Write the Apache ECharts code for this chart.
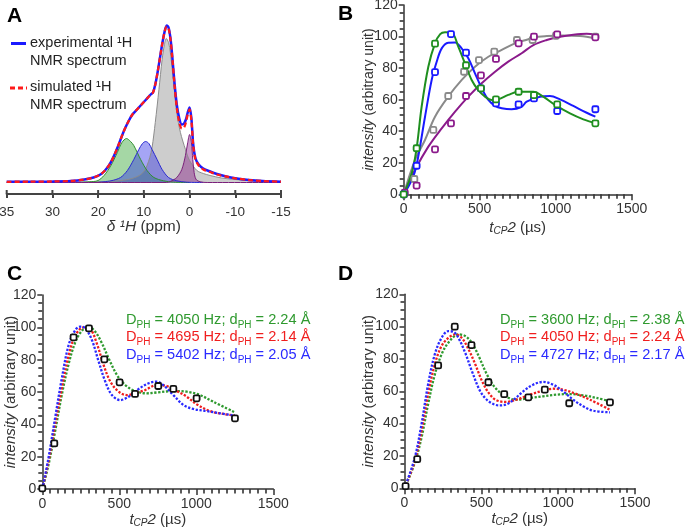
<!DOCTYPE html>
<html>
<head>
<meta charset="utf-8">
<title>1H NMR / CP kinetics</title>
<script src="https://cdn.jsdelivr.net/npm/echarts@6/dist/echarts.min.js"></script>
<style>html,body{margin:0;padding:0;background:#fff;}</style>
</head>
<body>
<div id="main" style="width:685px;height:528px;"></div>
<script type="text/javascript">
// ---------- panel A : 1H spectrum, [ppm, height] ----------
var aTickValues = [40, 30, 20, 10, 0, -10, -20];
var aTickLabels = ['35', '30', '20', '10', '0', '-10', '-15'];

var expSpectrum = [[40,0.7],[35,0.8],[30,1],[26,1.5],[23,3],[21,5],[19.5,8],[18.5,12],[17.5,18],[16.5,27],[15.5,38],[14.5,50],[13.5,60],[12.5,68],[11.5,73],[10.5,78],[9.5,83],[8.5,88],[8,90],[7.5,98],[7,110],[6.5,124],[6,138],[5.5,150],[5,157],[4.6,155],[4.2,145],[3.8,127],[3.3,100],[2.8,78],[2.3,65],[1.7,58],[1.2,59],[0.8,63],[0.4,70],[0,75],[-0.4,64],[-0.8,38],[-1.3,24],[-2,18],[-3,14],[-4.5,11],[-6,8.5],[-8,6],[-10,4.2],[-13,2.5],[-16,1.5],[-20,0.8]];
var simSpectrum = [[40,0.7],[35,0.8],[30,1],[26,1.5],[23,3],[21,5],[19.5,8],[18.5,12],[17.5,18],[16.5,27],[15.5,38],[14.5,50],[13.5,60],[12.5,68],[11.5,73],[10.5,78],[9.5,83],[8.5,88],[8,90],[7.5,98],[7,110],[6.5,124],[6,138],[5.5,150],[5,156],[4.6,154],[4.2,144],[3.8,126],[3.3,98],[2.8,75],[2.3,61],[1.7,54],[1.2,55],[0.8,60],[0.4,68],[0,73],[-0.4,62],[-0.8,37],[-1.3,23],[-2,17],[-3,13],[-4.5,10.5],[-6,8],[-8,6],[-10,4.2],[-13,2.5],[-16,1.5],[-20,0.8]];
var grayPeak = [[40,0.2],[25,0.4],[20,0.8],[16,1.5],[13,3.5],[11,7],[10,11],[9.3,17],[8.7,25],[8.2,35],[7.5,60],[6.7,93],[6,123],[5.5,138],[5.1,144],[4.6,140],[4.2,130],[3.5,100],[2.8,70],[2,50],[0.9,33],[0,22],[-1.6,12],[-3,9],[-4.5,7],[-7,4.5],[-10,3],[-14,1.7],[-20,0.8]];
var greenPeak = [[24,0.2],[21,1],[20,2],[18.7,7],[17.2,17],[15.8,30],[14.8,40],[13.8,44],[12.9,41],[12.2,37],[10.7,23],[9.3,12],[7.8,5],[5.7,1.7],[3.5,0.3],[0,0]];
var bluePeak = [[20,0.2],[17.2,1.7],[15.1,5],[13.6,12],[12.2,23],[11.1,33],[10.3,39],[9.6,41],[8.9,39],[8.2,33],[7.1,23],[6,13],[4.6,5],[2.8,1.7],[0.6,0.3],[-3,0]];
var purplePeak = [[40,0],[5,0],[4.2,1],[2.8,5],[1.7,13],[0.9,27],[0.4,40],[0,48],[-0.4,40],[-0.7,23],[-1,10],[-1.4,3.3],[-2.3,0.7],[-4,0],[-20,0]];

// ---------- panel B : build-up curves, [t (us), intensity] ----------
var bGreenPts = [[0,0],[85,29.2],[206,95.5],[410,81.8],[508,67.2],[607,60.2],[756,65],[857,62.9],[1010,57],[1261,45]];
var bBluePts = [[0,0],[85,18.1],[206,77.5],[311,101.6],[410,89.8],[508,67.2],[607,57.7],[756,57],[857,60.8],[1010,52.8],[1261,53.9]];
var bGrayPts = [[4,0],[70,9.7],[195,40.8],[293,62.3],[397,77.7],[495,85.1],[596,90.4],[745,97.8],[848,97.8],[1002,100.5],[1261,100]];
var bPurplePts = [[7,1],[85,5.5],[206,28.5],[311,45],[410,62.3],[508,75.4],[607,85.8],[756,95.7],[857,99.9],[1010,101.4],[1261,99.5]];
var bGreenFit = [[0,0],[53,13.3],[85,29.2],[118,55.5],[162,80.9],[206,95.7],[240,101.5],[272,102.7],[316,102.5],[359,93.6],[403,83],[447,72.5],[491,66],[535,61.9],[579,59.8],[623,60.2],[688,63],[754,65],[820,65],[853,65],[918,61.9],[1006,56],[1094,51.3],[1182,47.5],[1261,45]];
var bBlueFit = [[0,0],[53,9],[85,18.6],[140,49],[184,72.5],[217,84],[250,92.5],[293,96.1],[338,96.3],[381,92.5],[425,86.2],[469,76.7],[513,67.2],[557,59.8],[601,56],[645,54.5],[710,53.9],[776,55.5],[809,58.7],[897,61.9],[962,62.3],[1028,60.2],[1116,56],[1204,51.7],[1261,49.2]];
var bGrayFit = [[0,0],[74,21.7],[140,34.4],[206,49.2],[293,61.9],[382,72.5],[469,80.9],[557,87.2],[645,91.5],[732,95.7],[820,98.3],[853,99.5],[941,100.3],[1050,100.7],[1160,100.3],[1261,98.9]];
var bPurpleFit = [[0,0],[74,15.4],[162,30.2],[250,41.8],[338,52.4],[425,61.9],[513,70.4],[601,77.7],[688,84.1],[776,89.4],[853,94.6],[941,97.8],[1028,99.9],[1116,101.2],[1204,101.8],[1261,101.4]];

// ---------- panel C ----------
var cExpPts = [[0,0.4],[78,28.2],[203,93.8],[303,99.4],[403,80.2],[502,66],[602,58.8],[753,63.7],[851,61.9],[1002,56.1],[1251,43.7]];
var cGreenFit = [[0,0],[39,14.4],[82,35],[126,57.9],[171,77.3],[214,90.7],[258,98],[301,100.4],[344,97.3],[388,90],[431,80.8],[485,70.5],[539,64.3],[602,60.6],[678,59.2],[753,59.8],[851,60.6],[938,60.2],[1024,58.1],[1110,54],[1251,47.4]];
var cRedFit = [[0,0],[39,16.5],[82,39.2],[126,62.3],[171,82.5],[214,94.8],[268,100],[312,99],[355,89.7],[398,76.7],[442,66.4],[496,60.2],[550,58.1],[602,59.2],[667,61.2],[743,64.3],[808,63.7],[873,60.6],[938,57.1],[1002,52.4],[1089,48.2],[1175,46.4],[1251,45.4]];
var cBlueFit = [[0,0],[39,18.6],[82,43.3],[126,68],[171,89],[214,98.3],[245,100.4],[279,99.4],[322,92.2],[366,78.8],[409,66.4],[452,58.1],[506,55],[561,57.1],[626,61.9],[691,65.4],[743,66.4],[786,64.3],[851,58.1],[916,52],[981,49.5],[1067,48.2],[1154,46.8],[1251,45.4]];
var cDph = ['4050', '4695', '5402'];
var cDist = ['2.24', '2.14', '2.05'];

// ---------- panel D ----------
var dExpPts = [[7,1.4],[83,18],[219,76],[327,100],[436,88.6],[546,65.6],[649,58.2],[806,56.3],[913,61],[1072,52.6],[1337,53.2]];
var dGreenFit = [[0,0],[66,15.5],[110,31],[153,51.7],[197,70.3],[241,82.8],[285,90],[351,95.2],[395,94.2],[439,90],[483,81.7],[537,70.3],[592,62],[658,56.9],[724,54.8],[815,55.9],[902,56.9],[989,57.9],[1076,58.3],[1163,57.5],[1250,55.9],[1337,53.8]];
var dRedFit = [[0,0],[66,16.6],[110,35.2],[153,58],[197,76.6],[241,88],[285,93],[329,95.2],[373,93],[417,85.9],[461,76.6],[505,66.2],[548,59],[592,54.8],[658,53.4],[728,54.8],[815,57.9],[902,60.4],[967,61.6],[1032,61],[1120,58.3],[1207,54.8],[1337,48.6]];
var dBlueFit = [[0,0],[66,18.6],[110,39.3],[153,64],[197,82.8],[241,93],[285,97.2],[318,96.8],[351,93],[395,83.8],[439,72.4],[493,60],[548,53.8],[614,51.3],[658,51.7],[724,55.9],[772,60],[837,64.1],[902,65.8],[967,64.1],[1032,60],[1098,54.8],[1163,50.7],[1228,48],[1337,47]];
var dDph = ['3600', '4050', '4727'];
var dDist = ['2.38', '2.24', '2.17'];

// minor tick positions (every 50 us on x, every 5 units on y, majors excluded)
var minorTimeTicks = [];
for (var t = 50; t < 1500; t += 50) { if (t % 500) minorTimeTicks.push(t); }
var minorIntTicks = [];
for (var u = 5; u < 120; u += 5) { if (u % 20) minorIntTicks.push(u); }

var FONT = 'Arial, "Liberation Sans", sans-serif';
var GREEN = '#1f8f1f', BLUE = '#1a1aff', GRAY = '#8a8a8a', PURPLE = '#8b1a8b';
var DGREEN = '#2f9a2f', DRED = '#f01e1e', DBLUE = '#2a2aff';
var AX = '#333';

var myChart = echarts.init(document.getElementById('main'), null, {renderer: 'canvas'});

function plain(v) { return String(v); }

function timeAxis(grid, gap) {
    return {
        type: 'value', gridIndex: grid, position: 'bottom', min: 0, max: 1500, interval: 500,
        axisLine: {show: true, onZero: false, lineStyle: {color: AX, width: 1.5}},
        axisTick: {show: true, length: 6, lineStyle: {color: AX, width: 1.5}},
        splitLine: {show: false},
        axisLabel: {color: AX, fontSize: 14, fontFamily: FONT, margin: 8, formatter: plain},
        name: '{i|t}{s|CP}{i|2} (µs)', nameLocation: 'middle', nameGap: gap, nameMoveOverlap: false,
        nameTextStyle: {color: AX, fontSize: 15, fontFamily: FONT,
            rich: {i: {fontStyle: 'italic', fontSize: 15, fontFamily: FONT, color: AX},
                   s: {fontStyle: 'italic', fontSize: 10, fontFamily: FONT, color: AX, padding: [7, 0, 0, 0]}}}
    };
}
function intAxis(grid, gap, fs) {
    return {
        type: 'value', gridIndex: grid, position: 'left', min: 0, max: 120, interval: 20,
        axisLine: {show: true, onZero: false, lineStyle: {color: AX, width: 1.5}},
        axisTick: {show: true, length: 5, lineStyle: {color: AX, width: 1.5}},
        splitLine: {show: false},
        axisLabel: {color: AX, fontSize: 14, fontFamily: FONT, margin: 6, formatter: plain},
        name: '{i|intensity} (arbitrary unit)', nameLocation: 'middle', nameGap: gap, nameMoveOverlap: false,
        nameTextStyle: {color: AX, fontSize: fs, fontFamily: FONT,
            rich: {i: {fontStyle: 'italic', fontSize: fs, fontFamily: FONT, color: AX}}}
    };
}
function fitLine(xi, data, color, dotted) {
    return {type: 'line', xAxisIndex: xi, yAxisIndex: xi, data: data, smooth: 0.35,
        symbol: 'none', z: 2,
        lineStyle: {color: color, width: dotted ? 2.3 : 2, type: dotted ? [2.3, 1.6] : 'solid'}};
}
function points(xi, data, color) {
    return {type: 'scatter', xAxisIndex: xi, yAxisIndex: xi, data: data, symbol: 'roundRect',
        symbolSize: 6, z: 4,
        itemStyle: {color: '#fff', borderColor: color, borderWidth: 1.8, opacity: 1}};
}
function peak(data, line, fill) {
    return {type: 'line', xAxisIndex: 0, yAxisIndex: 0, data: data, smooth: 0.3, symbol: 'none',
        lineStyle: {color: line, width: 1}, areaStyle: {color: fill}};
}
function note(x, y, color, D, d) {
    return {type: 'text', left: x, top: y, z: 10,
        style: {text: '{m|D}{s|PH}{m| = ' + D + ' Hz; d}{s|PH}{m| = ' + d + ' Å}',
            rich: {m: {fontSize: 14.6, fontFamily: FONT, fill: color, color: color, lineHeight: 18, verticalAlign: 'bottom'},
                   s: {fontSize: 10, fontFamily: FONT, fill: color, color: color, lineHeight: 12, verticalAlign: 'bottom', padding: [0, 0, -3, 0]}}}};
}
function letter(x, y, t) {
    return {type: 'text', left: x, top: y, z: 10,
        style: {text: t, fontSize: 21, fontWeight: 900, fontFamily: FONT, fill: '#000'}};
}
function legText(x, y, t) {
    return {type: 'text', left: x, top: y, z: 10,
        style: {text: t, fontSize: 14.5, fontFamily: FONT, fill: '#222'}};
}

var baseGraphic = [
    letter(7, 6, 'A'), letter(338, 4, 'B'), letter(7, 264, 'C'), letter(338, 264, 'D'),
    {type: 'line', z: 10, shape: {x1: 11, y1: 43.5, x2: 26, y2: 43.5}, style: {stroke: BLUE, lineWidth: 3}},
    {type: 'line', z: 10, shape: {x1: 10, y1: 88, x2: 27, y2: 88}, style: {stroke: '#ff1a1a', lineWidth: 3, lineDash: [5, 3]}},
    legText(30, 35, 'experimental ¹H'), legText(30, 53, 'NMR spectrum'),
    legText(30, 79, 'simulated ¹H'), legText(30, 97, 'NMR spectrum'),
    note(126, 312, DGREEN, cDph[0], cDist[0]),
    note(126, 329, DRED, cDph[1], cDist[1]),
    note(126, 347, DBLUE, cDph[2], cDist[2]),
    note(500, 312, DGREEN, dDph[0], dDist[0]),
    note(500, 329, DRED, dDph[1], dDist[1]),
    note(500, 347, DBLUE, dDph[2], dDist[2])
];

var option = {
    backgroundColor: '#fff',
    animation: false,
    grid: [
        {left: 6.7, top: 10, width: 274.3, height: 184, outerBoundsMode: 'none'},
        {left: 403.7, top: 5, width: 228, height: 189.3, outerBoundsMode: 'none'},
        {left: 42.3, top: 295, width: 231, height: 194, outerBoundsMode: 'none'},
        {left: 404.5, top: 294.3, width: 230.5, height: 194, outerBoundsMode: 'none'}
    ],
    xAxis: [
        {
            type: 'value', gridIndex: 0, position: 'bottom', min: -20, max: 40, interval: 10, inverse: true,
            axisLine: {show: true, onZero: false, lineStyle: {color: '#444', width: 2}},
            axisTick: {show: true, length: 4, lineStyle: {color: '#444', width: 2}},
            splitLine: {show: false},
            axisLabel: {color: AX, fontSize: 13.5, fontFamily: FONT, margin: 11,
                formatter: function (v) { var k = aTickValues.indexOf(v); return k < 0 ? '' : aTickLabels[k]; }},
            name: '{i|δ ¹H} (ppm)', nameLocation: 'middle', nameGap: 25, nameMoveOverlap: false,
            nameTextStyle: {color: AX, fontSize: 15.5, fontFamily: FONT,
                rich: {i: {fontStyle: 'italic', fontSize: 15.5, fontFamily: FONT, color: AX}}}
        },
        timeAxis(1, 25),
        timeAxis(2, 22),
        timeAxis(3, 22)
    ],
    yAxis: [
        {type: 'value', gridIndex: 0, min: -11.5, max: 172.5, show: false, splitLine: {show: false}},
        intAxis(1, 28, 14),
        intAxis(2, 24, 15),
        intAxis(3, 28.5, 15)
    ],
    graphic: baseGraphic,
    series: [
        peak(grayPeak, '#8c8c8c', 'rgba(165,165,165,0.8)'),
        peak(greenPeak, '#2f8f2f', 'rgba(40,160,40,0.6)'),
        peak(bluePeak, '#2a2ad0', 'rgba(40,40,230,0.6)'),
        peak(purplePeak, '#7a1f7a', 'rgba(128,20,128,0.6)'),
        {type: 'line', xAxisIndex: 0, yAxisIndex: 0, data: expSpectrum, smooth: 0.3, symbol: 'none', z: 3,
            lineStyle: {color: BLUE, width: 2.5}},
        {type: 'line', xAxisIndex: 0, yAxisIndex: 0, data: simSpectrum, smooth: 0.3, symbol: 'none', z: 3,
            lineStyle: {color: '#ff1a1a', width: 2.3, type: [5, 3]}},

        fitLine(1, bGrayFit, GRAY), fitLine(1, bPurpleFit, PURPLE),
        fitLine(1, bBlueFit, BLUE), fitLine(1, bGreenFit, GREEN),
        points(1, bGrayPts, GRAY), points(1, bPurplePts, PURPLE),
        points(1, bBluePts, BLUE), points(1, bGreenPts, GREEN),

        fitLine(2, cGreenFit, DGREEN, true), fitLine(2, cRedFit, DRED, true), fitLine(2, cBlueFit, DBLUE, true),
        points(2, cExpPts, '#111'),

        fitLine(3, dGreenFit, DGREEN, true), fitLine(3, dRedFit, DRED, true), fitLine(3, dBlueFit, DBLUE, true),
        points(3, dExpPts, '#111')
    ]
};

myChart.setOption(option);

// minor ticks (and the upper half of the panel A ticks), placed through the axis scales
var tickGraphic = [];
function tickLine(x1, y1, x2, y2, w, color) {
    tickGraphic.push({type: 'line', z: 10, silent: true,
        shape: {x1: x1, y1: y1, x2: x2, y2: y2}, style: {stroke: color, lineWidth: w}});
}
[1, 2, 3].forEach(function (k) {
    var finder = {xAxisIndex: k, yAxisIndex: k};
    minorTimeTicks.forEach(function (v) {
        var p = myChart.convertToPixel(finder, [v, 0]);
        var x = Math.round(p[0]);
        tickLine(x, p[1], x, p[1] + 4.5, 1.6, AX);
    });
    minorIntTicks.forEach(function (v) {
        var p = myChart.convertToPixel(finder, [0, v]);
        var y = Math.round(p[1]);
        tickLine(p[0] - 4, y, p[0], y, 1.6, AX);
    });
});
aTickValues.forEach(function (v) {
    var p = myChart.convertToPixel({xAxisIndex: 0, yAxisIndex: 0}, [v, -11.5]);
    tickLine(p[0], p[1] - 4, p[0], p[1], 2, '#444');
});
myChart.setOption({graphic: baseGraphic.concat(tickGraphic)});
</script>
</body>
</html>
